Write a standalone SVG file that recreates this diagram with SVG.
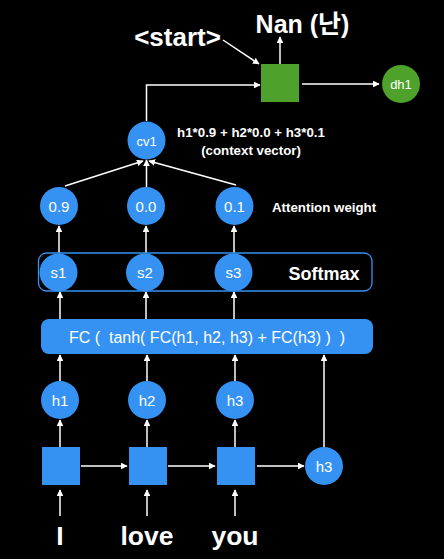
<svg xmlns="http://www.w3.org/2000/svg" width="444" height="559" viewBox="0 0 444 559">
<style>
.bg{fill:#000}
.b{fill:#3592f2}
.g{fill:#4ea12a}
.t{font-family:"Liberation Sans",Arial,sans-serif;fill:#fff;text-anchor:middle}
.c{font-size:15px}
.w{font-size:26.5px;font-weight:bold}
.lbl{font-size:13.3px;font-weight:bold}
.e{stroke:#fff;stroke-width:1.5;fill:none;marker-end:url(#ah)}
</style>
<defs>
<marker id="ah" viewBox="0 0 10 10" refX="9" refY="5" markerWidth="4.5" markerHeight="4.5" orient="auto" markerUnits="strokeWidth">
<path d="M0,0L10,5L0,10z" fill="#fff"/>
</marker>
</defs>
<rect class="bg" x="0" y="0" width="444" height="559"/>
<g id="connectors">
<line class="e" x1="60" y1="516" x2="60" y2="490"/>
<line class="e" x1="147" y1="516" x2="147" y2="490"/>
<line class="e" x1="235" y1="516" x2="235" y2="490"/>
<line class="e" x1="81" y1="466" x2="127" y2="466"/>
<line class="e" x1="168" y1="466" x2="215" y2="466"/>
<line class="e" x1="257" y1="466" x2="304" y2="466"/>
<line class="e" x1="60" y1="447" x2="60" y2="420"/>
<line class="e" x1="147" y1="447" x2="147" y2="420"/>
<line class="e" x1="235" y1="447" x2="235" y2="420"/>
<line class="e" x1="60" y1="381" x2="60" y2="355"/>
<line class="e" x1="147" y1="381" x2="147" y2="355"/>
<line class="e" x1="235" y1="381" x2="235" y2="355"/>
<line class="e" x1="324" y1="447" x2="324" y2="355"/>
<line class="e" x1="60" y1="319" x2="60" y2="292"/>
<line class="e" x1="146" y1="319" x2="146" y2="292"/>
<line class="e" x1="234" y1="319" x2="234" y2="292"/>
<line class="e" x1="59" y1="253" x2="59" y2="226"/>
<line class="e" x1="146" y1="253" x2="146" y2="226"/>
<line class="e" x1="234" y1="253" x2="234" y2="226"/>
<line class="e" x1="65" y1="186" x2="143" y2="161"/>
<line class="e" x1="146.5" y1="187" x2="146.5" y2="160"/>
<line class="e" x1="236" y1="185" x2="149" y2="161"/>
<polyline class="e" points="146.5,121 146.5,85 260,85"/>
<line class="e" x1="223" y1="40" x2="259" y2="64"/>
<line class="e" x1="280" y1="64" x2="280" y2="37"/>
<line class="e" x1="302" y1="84" x2="379" y2="84"/>
</g>
<g id="inputs">
<text class="t w" x="60" y="545">I</text>
<text class="t w" x="147" y="545">love</text>
<text class="t w" x="235" y="545">you</text>
</g>
<g id="rnn1"><rect class="b" x="42" y="447" width="38" height="38"/></g>
<g id="rnn2"><rect class="b" x="129" y="447" width="38" height="38"/></g>
<g id="rnn3"><rect class="b" x="217" y="447" width="38" height="38"/></g>
<g id="h3last"><circle class="b" cx="324" cy="466" r="19"/><text class="t c" x="324" y="471.5">h3</text></g>
<g id="h1"><circle class="b" cx="60" cy="400" r="19"/><text class="t c" x="60" y="405.5">h1</text></g>
<g id="h2"><circle class="b" cx="147" cy="400" r="19"/><text class="t c" x="147" y="405.5">h2</text></g>
<g id="h3"><circle class="b" cx="235" cy="400" r="19"/><text class="t c" x="235" y="405.5">h3</text></g>
<g id="fc"><rect class="b" x="41" y="319" width="332" height="35" rx="8"/><text class="t" x="207" y="342.5" style="white-space:pre;font-size:16px">FC (  tanh( FC(h1, h2, h3) + FC(h3) )  )</text></g>
<g id="softmax"><rect x="38.5" y="253" width="333.5" height="38" rx="8" fill="none" stroke="#3592f2" stroke-width="1.3"/><text class="t" x="324" y="279.5" style="font-size:18px;font-weight:bold">Softmax</text></g>
<g id="s1"><circle class="b" cx="58.5" cy="272.5" r="19"/><text class="t c" x="58.5" y="278">s1</text></g>
<g id="s2"><circle class="b" cx="145" cy="272.5" r="19"/><text class="t c" x="145" y="278">s2</text></g>
<g id="s3"><circle class="b" cx="233.5" cy="272.5" r="19"/><text class="t c" x="233.5" y="278">s3</text></g>
<g id="a1"><circle class="b" cx="59" cy="206" r="19"/><text class="t c" x="59" y="211.5">0.9</text></g>
<g id="a2"><circle class="b" cx="146" cy="206" r="19"/><text class="t c" x="146" y="211.5">0.0</text></g>
<g id="a3"><circle class="b" cx="234.5" cy="206" r="19"/><text class="t c" x="234.5" y="211.5">0.1</text></g>
<g id="attn-label"><text class="t lbl" x="272" y="211.5" style="text-anchor:start">Attention weight</text></g>
<g id="cv1"><circle class="b" cx="146.5" cy="140.5" r="19"/><text class="t" x="146.5" y="145.5" style="font-size:13px">cv1</text></g>
<g id="cv-label"><text class="t lbl" x="251" y="137">h1*0.9 + h2*0.0 + h3*0.1</text><text class="t lbl" x="251" y="154.5">(context vector)</text></g>
<g id="decoder"><rect class="g" x="261" y="64" width="38" height="38"/></g>
<g id="dh1"><circle class="g" cx="401" cy="84" r="19"/><text class="t" x="401" y="89" style="font-size:13px">dh1</text></g>
<g id="start"><text class="t" x="177.5" y="45.5" style="font-size:26px;font-weight:bold">&lt;start&gt;</text></g>
<g id="output"><text class="t" x="302.5" y="33" style="font-size:25px;font-weight:bold;font-family:'Liberation Sans','Noto Sans CJK KR',sans-serif">Nan (난)</text></g>
</svg>
